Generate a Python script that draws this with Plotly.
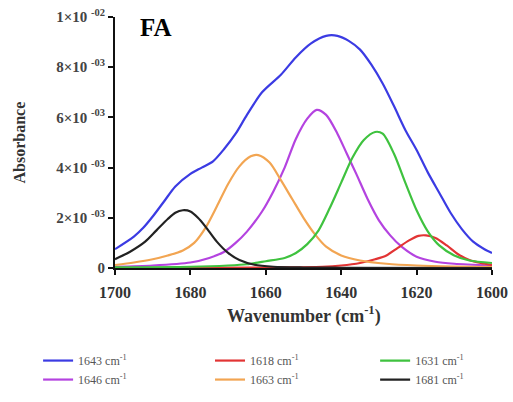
import plotly.graph_objects as go

# ---- data (absorbance in units of 1e-3) ----
blue_x = [1700, 1695, 1692.5, 1690, 1687, 1684, 1680, 1677, 1674, 1671, 1668, 1665, 1661, 1656, 1652, 1648, 1644, 1641, 1638, 1635, 1632, 1629, 1626, 1623, 1620, 1617, 1614, 1611, 1608, 1605, 1602, 1600]
blue_y = [0.75, 1.25, 1.6, 2.05, 2.65, 3.25, 3.75, 4.0, 4.25, 4.75, 5.35, 6.1, 7.0, 7.7, 8.4, 8.95, 9.25, 9.25, 9.05, 8.7, 8.1, 7.35, 6.45, 5.5, 4.7, 3.8, 3.0, 2.2, 1.55, 1.05, 0.75, 0.6]

red_x = [1700, 1660, 1645, 1640, 1635, 1631, 1628, 1625, 1622, 1619.5, 1617.5, 1615, 1612, 1609, 1606, 1603, 1600]
red_y = [0.0, 0.02, 0.05, 0.1, 0.2, 0.35, 0.5, 0.8, 1.1, 1.28, 1.3, 1.2, 0.9, 0.55, 0.32, 0.2, 0.12]

green_x = [1700, 1680, 1670, 1665, 1660, 1655, 1652, 1649, 1646, 1643, 1640, 1637, 1634, 1631, 1629, 1626, 1623, 1620, 1617, 1614, 1610, 1606, 1600]
green_y = [0.03, 0.05, 0.1, 0.15, 0.27, 0.4, 0.6, 0.95, 1.5, 2.4, 3.4, 4.4, 5.1, 5.42, 5.35, 4.55, 3.4, 2.3, 1.45, 0.9, 0.5, 0.3, 0.2]

purple_x = [1700, 1690, 1680, 1675, 1671, 1668, 1665, 1661, 1658, 1655, 1652, 1649, 1646.5, 1644, 1641, 1638.5, 1636, 1633, 1630, 1627, 1624, 1620, 1615, 1610, 1600]
purple_y = [0.05, 0.1, 0.22, 0.4, 0.65, 1.0, 1.45, 2.25, 3.05, 4.0, 5.15, 5.95, 6.3, 6.1, 5.35, 4.55, 3.75, 2.75, 1.9, 1.3, 0.85, 0.45, 0.25, 0.17, 0.1]

orange_x = [1700, 1695, 1690, 1686, 1682, 1679, 1676, 1673, 1670, 1667, 1664, 1662, 1659, 1656, 1653, 1650, 1647, 1644, 1640, 1635, 1628, 1620, 1610, 1600]
orange_y = [0.12, 0.22, 0.35, 0.5, 0.7, 1.0, 1.6, 2.45, 3.35, 4.05, 4.45, 4.5, 4.2, 3.5, 2.75, 2.0, 1.35, 0.85, 0.5, 0.3, 0.17, 0.1, 0.06, 0.04]

black_x = [1700, 1696, 1692, 1689, 1686, 1684, 1682, 1680, 1678, 1676, 1673, 1670, 1667, 1663, 1658, 1650, 1640, 1600]
black_y = [0.35, 0.65, 1.05, 1.5, 1.95, 2.2, 2.3, 2.25, 2.0, 1.65, 1.05, 0.6, 0.32, 0.13, 0.05, 0.02, 0.01, 0.0]

y_tick_vals = [0, 2e-3, 4e-3, 6e-3, 8e-3, 1e-2]
y_tick_text = ["0", "2×10 <sup>-03</sup>", "4×10 <sup>-03</sup>", "6×10 <sup>-03</sup>",
               "8×10 <sup>-03</sup>", "1×10 <sup>-02</sup>"]
x_tick_vals = [1700, 1680, 1660, 1640, 1620, 1600]

# (legend label, x, y, colour, legend column)
series = [
    ("1643 cm<sup>-1</sup>", blue_x, blue_y, "#3b3be3", "legend"),
    ("1646 cm<sup>-1</sup>", purple_x, purple_y, "#b443e0", "legend"),
    ("1618 cm<sup>-1</sup>", red_x, red_y, "#e23434", "legend2"),
    ("1663 cm<sup>-1</sup>", orange_x, orange_y, "#f2a552", "legend2"),
    ("1631 cm<sup>-1</sup>", green_x, green_y, "#3fc23f", "legend3"),
    ("1681 cm<sup>-1</sup>", black_x, black_y, "#222222", "legend3"),
]

SERIF = "Liberation Serif, DejaVu Serif, serif"

fig = go.Figure()
for name, xs, ys, col, lg in series:
    fig.add_trace(go.Scatter(
        x=xs, y=[v * 1e-3 for v in ys], mode="lines", name=name, legend=lg,
        line=dict(color=col, width=2.2, shape="spline", smoothing=0.8),
    ))

legend_font = dict(family=SERIF, size=12, color="#555555")
def legend_at(xp):
    return dict(orientation="v", x=xp, xanchor="left", y=-0.311, yanchor="top",
                font=legend_font, tracegroupgap=0, itemwidth=30,
                bgcolor="rgba(0,0,0,0)")

fig.update_layout(
    width=513, height=402,
    margin=dict(l=115, r=21, t=17, b=134, autoexpand=False),
    paper_bgcolor="white", plot_bgcolor="white",
    showlegend=True,
    legend=legend_at(-0.204),
    legend2=legend_at(0.252),
    legend3=legend_at(0.690),
    font=dict(family=SERIF),
)

fig.update_xaxes(
    range=[1700, 1600], tickvals=x_tick_vals, ticktext=[str(v) for v in x_tick_vals],
    showline=True, linecolor="#111111", linewidth=2,
    ticks="outside", ticklen=5, tickwidth=2, tickcolor="#111111",
    showgrid=False, zeroline=False, ticklabelstandoff=4,
    tickfont=dict(family=SERIF, size=16, color="#333333", weight="bold"),
)
fig.update_yaxes(
    range=[0, 0.01], tickvals=y_tick_vals, ticktext=y_tick_text,
    showline=True, linecolor="#111111", linewidth=2,
    ticks="outside", ticklen=5, tickwidth=2, tickcolor="#111111",
    showgrid=False, zeroline=False,
    tickfont=dict(family=SERIF, size=15, color="#444444", weight="bold"),
)

# axis titles
fig.add_annotation(
    text="<b>Wavenumber (cm<sup>-1</sup>)</b>", x=0.5, y=-0.187,
    xref="paper", yref="paper", xanchor="center", yanchor="middle",
    showarrow=False, font=dict(family=SERIF, size=18, color="#333333"),
)
fig.add_annotation(
    text="<b>Absorbance</b>", x=-0.252, y=0.5, textangle=-90,
    xref="paper", yref="paper", xanchor="center", yanchor="middle",
    showarrow=False, font=dict(family=SERIF, size=16, color="#333333"),
)

fig.add_annotation(
    text="<b>FA</b>", x=0.062, y=0.96, xref="paper", yref="paper",
    xanchor="left", yanchor="middle", showarrow=False,
    font=dict(family=SERIF, size=25, color="black"),
)

fig.write_html("out.html")
